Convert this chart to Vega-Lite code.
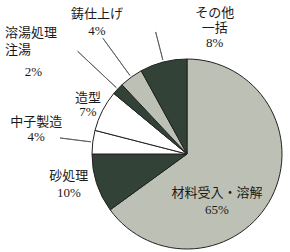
{
  "$schema": "https://vega.github.io/schema/vega-lite/v6.json",
  "width": 190,
  "height": 190,
  "autosize": "none",
  "padding": {"left": 92, "top": 59, "right": 8, "bottom": 3},
  "background": "white",
  "config": {"view": {"stroke": null}, "text": {"font": "Liberation Serif, Noto Sans CJK JP", "fontSize": 13, "color": "#1a1a1a", "lineBreak": "\n", "baseline": "middle", "align": "center"}},
  "data": {"values": [
    {"cat": "材料受入・溶解", "pct": 65, "ord": 1, "label": "材料受入・溶解\n65%", "share": "65%"},
    {"cat": "砂処理", "pct": 10, "ord": 2, "label": "砂処理\n10%", "share": "10%"},
    {"cat": "中子製造", "pct": 4, "ord": 3, "label": "中子製造\n4%", "share": "4%"},
    {"cat": "造型", "pct": 7, "ord": 4, "label": "造型\n7%", "share": "7%"},
    {"cat": "溶湯処理注湯", "pct": 2, "ord": 5, "label": "溶湯処理\n注湯", "share": "2%"},
    {"cat": "鋳仕上げ", "pct": 4, "ord": 6, "label": "鋳仕上げ\n4%", "share": "4%"},
    {"cat": "その他一括", "pct": 8, "ord": 7, "label": "その他\n一括\n8%", "share": "8%"}
  ]},
  "encoding": {
    "theta": {"field": "pct", "type": "quantitative", "stack": true},
    "order": {"field": "ord", "type": "quantitative"}
  },
  "layer": [
    {
      "mark": {"type": "arc", "stroke": "#222", "strokeWidth": 1},
      "encoding": {
        "color": {"field": "cat", "type": "nominal", "legend": null,
          "scale": {"domain": ["材料受入・溶解", "砂処理", "中子製造", "造型", "溶湯処理注湯", "鋳仕上げ", "その他一括"],
                    "range": ["#bdc1b5", "#334237", "#ffffff", "#ffffff", "#334237", "#bdc1b5", "#334237"]}}
      }
    },
    {"mark": {"type": "arc", "radius": 128, "radius2": 97, "padAngle": 1, "fillOpacity": 0, "stroke": "#555", "strokeWidth": 0.8},
     "encoding": {"strokeOpacity": {"condition": {"test": "datum.cat === '中子製造'", "value": 1}, "value": 0}}},
    {"mark": {"type": "arc", "radius": 150, "radius2": 97, "padAngle": 1, "fillOpacity": 0, "stroke": "#555", "strokeWidth": 0.8},
     "encoding": {"strokeOpacity": {"condition": {"test": "datum.cat === '溶湯処理注湯'", "value": 1}, "value": 0}}},
    {"mark": {"type": "arc", "radius": 143, "radius2": 97, "padAngle": 1, "fillOpacity": 0, "stroke": "#555", "strokeWidth": 0.8},
     "encoding": {"strokeOpacity": {"condition": {"test": "datum.cat === '鋳仕上げ'", "value": 1}, "value": 0}}},
    {"mark": {"type": "arc", "radius": 126, "radius2": 97, "padAngle": 1, "fillOpacity": 0, "stroke": "#555", "strokeWidth": 0.8},
     "encoding": {"strokeOpacity": {"condition": {"test": "datum.cat === 'その他一括'", "value": 1}, "value": 0}}},
    {"mark": {"type": "text", "radius": 55, "dx": -19, "dy": 14, "lineHeight": 17},
     "encoding": {"text": {"condition": {"test": "datum.cat === '材料受入・溶解'", "field": "label"}, "value": ""}}},
    {"mark": {"type": "text", "radius": 120, "dx": -4, "dy": -15, "lineHeight": 17},
     "encoding": {"text": {"condition": {"test": "datum.cat === '砂処理'", "field": "label"}, "value": ""}}},
    {"mark": {"type": "text", "radius": 150, "dx": -2, "dy": -13, "lineHeight": 15},
     "encoding": {"text": {"condition": {"test": "datum.cat === '中子製造'", "field": "label"}, "value": ""}}},
    {"mark": {"type": "text", "radius": 110, "dx": -1, "dy": -6, "lineHeight": 14},
     "encoding": {"text": {"condition": {"test": "datum.cat === '造型'", "field": "label"}, "value": ""}}},
    {"mark": {"type": "text", "radius": 170, "dx": -58, "dy": -4.5, "lineHeight": 17, "align": "left"},
     "encoding": {"text": {"condition": {"test": "datum.cat === '溶湯処理注湯'", "field": "label"}, "value": ""}}},
    {"mark": {"type": "text", "radius": 160, "dx": -37, "dy": 28},
     "encoding": {"text": {"condition": {"test": "datum.cat === '溶湯処理注湯'", "field": "share"}, "value": ""}}},
    {"mark": {"type": "text", "radius": 165, "dx": 7, "dy": -7, "lineHeight": 17},
     "encoding": {"text": {"condition": {"test": "datum.cat === '鋳仕上げ'", "field": "label"}, "value": ""}}},
    {"mark": {"type": "text", "radius": 130, "dx": 60, "dy": -15, "lineHeight": 15},
     "encoding": {"text": {"condition": {"test": "datum.cat === 'その他一括'", "field": "label"}, "value": ""}}}
  ]
}
